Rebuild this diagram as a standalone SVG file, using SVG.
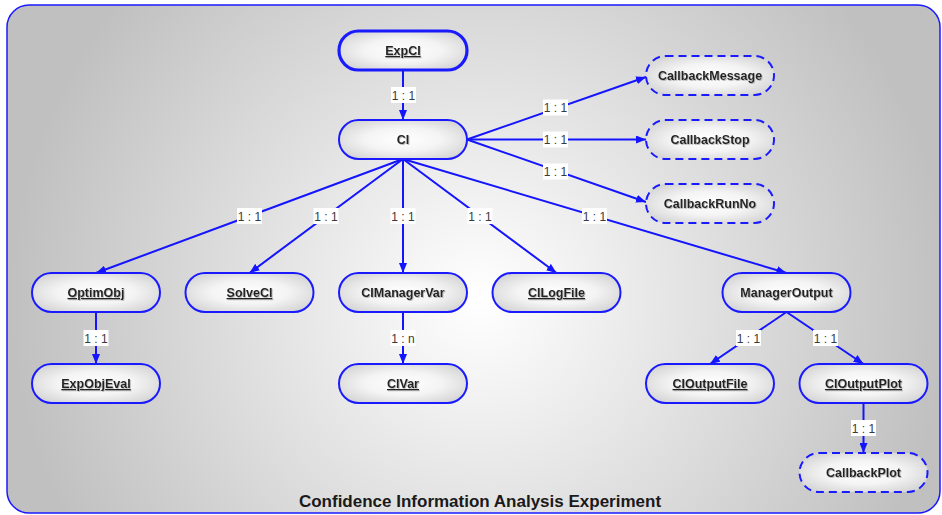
<svg xmlns="http://www.w3.org/2000/svg" width="942" height="515" viewBox="0 0 942 515">
  <defs>
    <radialGradient id="bg" gradientUnits="userSpaceOnUse" cx="480" cy="300" r="470">
      <stop offset="0" stop-color="#ffffff"/>
      <stop offset="1" stop-color="#c0c0c0"/>
    </radialGradient>
    <radialGradient id="pill" cx="0.5" cy="0.5" r="0.6">
      <stop offset="0" stop-color="#ffffff"/>
      <stop offset="0.5" stop-color="#f4f4f4"/>
      <stop offset="1" stop-color="#d4d4d4"/>
    </radialGradient>
    <marker id="arrow" markerUnits="userSpaceOnUse" markerWidth="10" markerHeight="8" refX="10" refY="4" orient="auto">
      <path d="M0,0 L10,4 L0,8 z" fill="#1414ff"/>
    </marker>
    <filter id="tshadow" x="-10%" y="-30%" width="120%" height="160%">
      <feDropShadow dx="0.8" dy="0.8" stdDeviation="0.6" flood-color="#999999" flood-opacity="0.8"/>
    </filter>
  </defs>
  <style>
    .node rect { fill: url(#pill); stroke: #1a1aff; stroke-width: 2; }
    .node.root rect { stroke-width: 3.2; }
    .node.cb rect { stroke-dasharray: 8 5; }
    .node text { font-family: "Liberation Sans", Arial, sans-serif; font-weight: bold; font-size: 12.5px; fill: #222222; text-anchor: middle; filter: url(#tshadow); }
    .node text.u { text-decoration: underline; }
    .edges line { stroke: #1414ff; stroke-width: 2; marker-end: url(#arrow); }
    .lbl rect { fill: #ffffff; }
    .lbl text { font-family: "Liberation Sans", Arial, sans-serif; font-size: 12px; fill: #3a3a3a; text-anchor: middle; }
    .title { font-family: "Liberation Sans", Arial, sans-serif; font-weight: bold; font-size: 17px; fill: #1a1a1a; text-anchor: middle; }
  </style>

  <!-- frame -->
  <rect x="0" y="0" width="942" height="515" fill="#ffffff"/>
  <rect x="7" y="5" width="933" height="508" rx="22" ry="22" fill="url(#bg)" stroke="#1a1aff" stroke-width="1.5"/>

  <!-- connectors -->
  <g id="connectors" class="edges">
    <line x1="403" y1="70" x2="403" y2="120"/>
    <line x1="403" y1="159" x2="96" y2="273"/>
    <line x1="403" y1="159" x2="249.5" y2="273"/>
    <line x1="403" y1="159" x2="403" y2="273"/>
    <line x1="403" y1="159" x2="556.5" y2="273"/>
    <line x1="403" y1="159" x2="786.5" y2="273"/>
    <line x1="467" y1="139.5" x2="646" y2="77"/>
    <line x1="467" y1="139.5" x2="646" y2="139.5"/>
    <line x1="467" y1="139.5" x2="646" y2="202"/>
    <line x1="96" y1="312" x2="96" y2="364"/>
    <line x1="403" y1="312" x2="403" y2="364"/>
    <line x1="786.5" y1="312" x2="710" y2="364"/>
    <line x1="786.5" y1="312" x2="863.5" y2="364"/>
    <line x1="863.5" y1="403" x2="863.5" y2="453"/>
  </g>

  <!-- connector labels -->
  <g id="labels" class="lbl">
    <rect x="391" y="87" width="25" height="16"/><text x="403.5" y="99.5">1 : 1</text>
    <rect x="237" y="208" width="25" height="16"/><text x="249.5" y="220.5">1 : 1</text>
    <rect x="313.5" y="208" width="25" height="16"/><text x="326" y="220.5">1 : 1</text>
    <rect x="390.5" y="208" width="25" height="16"/><text x="403" y="220.5">1 : 1</text>
    <rect x="467.5" y="208" width="25" height="16"/><text x="480" y="220.5">1 : 1</text>
    <rect x="582" y="208" width="25" height="16"/><text x="594.5" y="220.5">1 : 1</text>
    <rect x="543" y="99.5" width="25" height="16"/><text x="555.5" y="112">1 : 1</text>
    <rect x="543" y="131.5" width="25" height="16"/><text x="555.5" y="144">1 : 1</text>
    <rect x="543" y="163.5" width="25" height="16"/><text x="555.5" y="176">1 : 1</text>
    <rect x="83.5" y="330" width="25" height="16"/><text x="96" y="342.5">1 : 1</text>
    <rect x="390.5" y="330" width="25" height="16"/><text x="403" y="342.5">1 : n</text>
    <rect x="736" y="330" width="25" height="16"/><text x="748.5" y="342.5">1 : 1</text>
    <rect x="813" y="330" width="25" height="16"/><text x="825.5" y="342.5">1 : 1</text>
    <rect x="851" y="420" width="25" height="16"/><text x="863.5" y="432.5">1 : 1</text>
  </g>

  <!-- nodes -->
  <g id="ExpCI" class="node root"><rect x="339" y="31" width="128" height="39" rx="19.5"/><text class="u" x="403" y="55">ExpCI</text></g>
  <g id="CI" class="node"><rect x="339" y="120" width="128" height="39" rx="19.5"/><text x="403" y="144">CI</text></g>
  <g id="CallbackMessage" class="node cb"><rect x="646" y="56" width="128" height="39" rx="19.5"/><text x="710" y="80">CallbackMessage</text></g>
  <g id="CallbackStop" class="node cb"><rect x="646" y="120" width="128" height="39" rx="19.5"/><text x="710" y="144">CallbackStop</text></g>
  <g id="CallbackRunNo" class="node cb"><rect x="646" y="184" width="128" height="39" rx="19.5"/><text x="710" y="208">CallbackRunNo</text></g>
  <g id="OptimObj" class="node"><rect x="32" y="273" width="128" height="39" rx="19.5"/><text class="u" x="96" y="297">OptimObj</text></g>
  <g id="SolveCI" class="node"><rect x="185.5" y="273" width="128" height="39" rx="19.5"/><text class="u" x="249.5" y="297">SolveCI</text></g>
  <g id="CIManagerVar" class="node"><rect x="339" y="273" width="128" height="39" rx="19.5"/><text x="403" y="297">CIManagerVar</text></g>
  <g id="CILogFile" class="node"><rect x="492.5" y="273" width="128" height="39" rx="19.5"/><text class="u" x="556.5" y="297">CILogFile</text></g>
  <g id="ManagerOutput" class="node"><rect x="722.5" y="273" width="128" height="39" rx="19.5"/><text x="786.5" y="297">ManagerOutput</text></g>
  <g id="ExpObjEval" class="node"><rect x="32" y="364" width="128" height="39" rx="19.5"/><text class="u" x="96" y="388">ExpObjEval</text></g>
  <g id="CIVar" class="node"><rect x="339" y="364" width="128" height="39" rx="19.5"/><text class="u" x="403" y="388">CIVar</text></g>
  <g id="CIOutputFile" class="node"><rect x="646" y="364" width="128" height="39" rx="19.5"/><text class="u" x="710" y="388">CIOutputFile</text></g>
  <g id="CIOutputPlot" class="node"><rect x="799.5" y="364" width="128" height="39" rx="19.5"/><text class="u" x="863.5" y="388">CIOutputPlot</text></g>
  <g id="CallbackPlot" class="node cb"><rect x="799.5" y="453" width="128" height="39" rx="19.5"/><text x="863.5" y="477">CallbackPlot</text></g>

  <text class="title" x="480" y="507">Confidence Information Analysis Experiment</text>
</svg>
